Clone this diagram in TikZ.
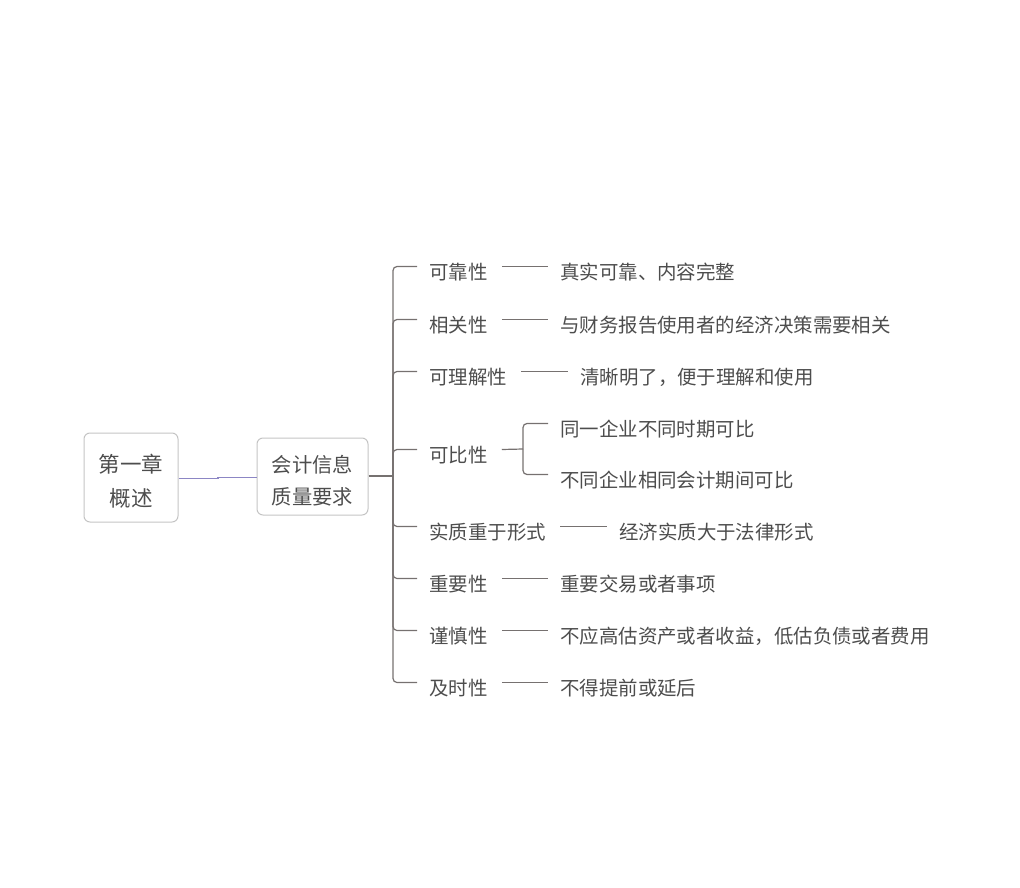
\documentclass[tikz,border=0pt]{standalone}
\usepackage{fontspec}
\setmainfont{Noto Sans CJK SC}
\definecolor{txt}{HTML}{4D4D4D}
\definecolor{ln}{HTML}{767170}
\definecolor{bx}{HTML}{C4C4C4}
\definecolor{pl}{HTML}{8C86C4}
\begin{document}
\begin{tikzpicture}[x=1pt,y=-1pt,
  box/.style={draw=bx,line width=1pt,rounded corners=6pt,inner sep=0pt},
  btxt/.style={text=txt,align=center,inner sep=0pt},
  lbl/.style={text=txt,anchor=west,inner sep=0pt,font=\fontsize{19.45}{22}\selectfont},
  conn/.style={draw=ln,line width=1.2pt},
  br/.style={draw=ln,line width=1.2pt,rounded corners=4pt}]
\useasboundingbox (0,0) rectangle (1020,888);
\node[box,minimum width=94pt,minimum height=89pt] (root) at (131,477.5) {};
\node[btxt,font=\fontsize{21.5}{34}\selectfont] (roott) at ([yshift=-4pt]root.center) {第一章\\概述};
\node[box,minimum width=111pt,minimum height=77pt] (main) at (312.5,476.5) {};
\node[btxt,font=\fontsize{20.3}{32}\selectfont] (maint) at ([yshift=-4.5pt]main.center) {会计信息\\质量要求};
\draw[pl,line width=1.1pt] (root.east|-0,478.7) -- (218,478.7) -- (218,477.3) -- (main.west|-0,477.3);
\coordinate (trunk) at (393,476);
\draw[conn] (main.east|-trunk) -- (trunk);
% level 1
\node[lbl] (a1) at (429,272) {可靠性};
\node[lbl] (a2) at (429,325) {相关性};
\node[lbl] (a3) at (429,377) {可理解性};
\node[lbl] (a4) at (429,455) {可比性};
\node[lbl] (a5) at (429,532) {实质重于形式};
\node[lbl] (a6) at (429,584) {重要性};
\node[lbl] (a7) at (429,636) {谨慎性};
\node[lbl] (a8) at (429,688) {及时性};
\foreach \i in {1,...,8}{
  \draw[br] (trunk) |- ([xshift=-12pt,yshift=5.5pt]a\i.west);
}
% level 2
\node[lbl] (b1) at (560,272) {真实可靠、内容完整};
\node[lbl] (b2) at (560,325) {与财务报告使用者的经济决策需要相关};
\node[lbl] (b3) at (580,377) {清晰明了，便于理解和使用};
\node[lbl] (b41) at (560,429) {同一企业不同时期可比};
\node[lbl] (b42) at (560,480) {不同企业相同会计期间可比};
\node[lbl] (b5) at (619,532) {经济实质大于法律形式};
\node[lbl] (b6) at (560,584) {重要交易或者事项};
\node[lbl] (b7) at (560,636) {不应高估资产或者收益，低估负债或者费用};
\node[lbl] (b8) at (560,688) {不得提前或延后};
\foreach \a/\b in {a1/b1,a2/b2,a3/b3,a5/b5,a6/b6,a7/b7,a8/b8}{
  \draw[conn] ([xshift=14pt,yshift=5.5pt]\a.east) -- ([xshift=-12pt,yshift=5.5pt]\b.west);
}
\coordinate (cmp) at (523,449);
\draw[conn] ([xshift=14pt,yshift=5.5pt]a4.east) -- (cmp);
\draw[br] (cmp) |- ([xshift=-12pt,yshift=5.5pt]b41.west);
\draw[br] (cmp) |- ([xshift=-12pt,yshift=5.5pt]b42.west);
\end{tikzpicture}
\end{document}
